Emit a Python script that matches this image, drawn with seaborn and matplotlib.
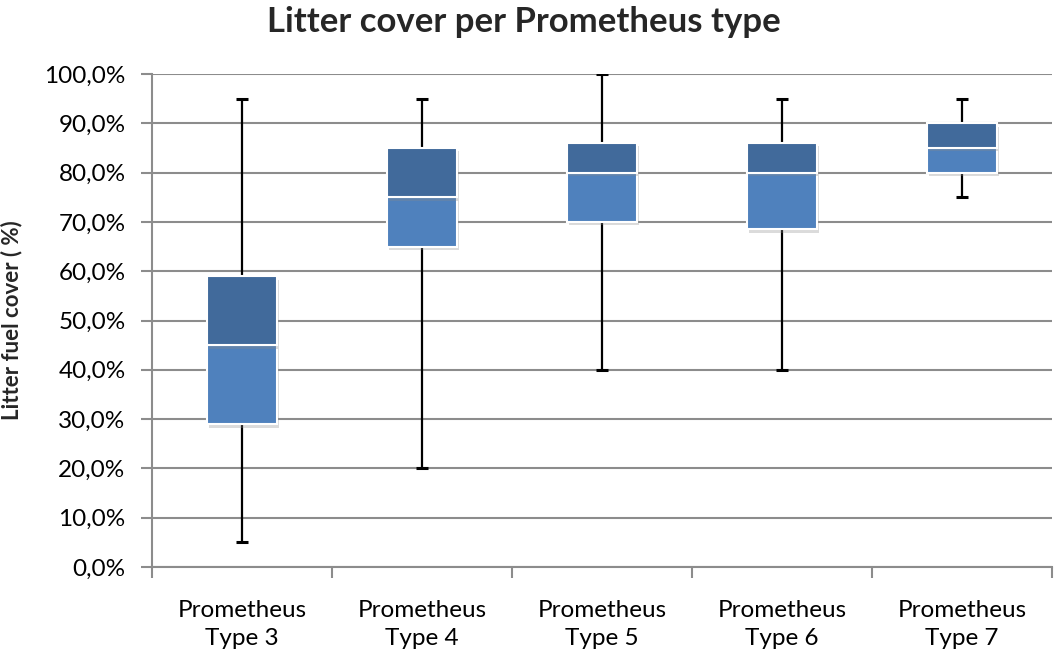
import matplotlib
matplotlib.use("Agg")
import matplotlib.pyplot as plt
import matplotlib.patheffects as pe
from matplotlib.ticker import FuncFormatter, FixedLocator
import numpy as np
import pandas as pd
import seaborn as sns

# Box statistics per Prometheus type (fractions of cover)
categories = ["Prometheus\nType 3", "Prometheus\nType 4", "Prometheus\nType 5",
              "Prometheus\nType 6", "Prometheus\nType 7"]
minimum = [0.05, 0.20, 0.40, 0.40, 0.75]
q1 = [0.29, 0.65, 0.70, 0.685, 0.80]
median = [0.45, 0.75, 0.80, 0.80, 0.85]
q3 = [0.59, 0.85, 0.86, 0.86, 0.90]
maximum = [0.95, 0.95, 1.00, 0.95, 0.95]

df = pd.DataFrame({"type": categories, "min": minimum, "q1": q1,
                   "median": median, "q3": q3, "max": maximum})
df["lower"] = df["median"] - df["q1"]
df["upper"] = df["q3"] - df["median"]

sns.set_theme(style="white")
plt.rcParams["font.family"] = ["Lato", "DejaVu Sans"]

fig = plt.figure(figsize=(10.54, 6.56), dpi=100)
ax = fig.add_axes([152 / 1054, 1 - 567 / 656, 900 / 1054, 493 / 656])

light = "#4f81bd"
dark = "#416a9b"
grid_c = "#8c8c8c"

# Horizontal grid
ax.set_ylim(0, 1.0)
ax.yaxis.set_major_locator(FixedLocator(np.arange(0, 1.01, 0.1)))
ax.grid(axis="y", color=grid_c, linewidth=1.5, zorder=0)
ax.set_axisbelow(True)

# Whiskers with caps (behind boxes)
x = np.arange(len(categories))
ax.vlines(x, df["min"], df["max"], color="black", linewidth=1.6, zorder=2)
cap = 0.035
ax.hlines(df["min"], x - cap, x + cap, color="black", linewidth=2.2, zorder=2)
ax.hlines(df["max"], x - cap, x + cap, color="black", linewidth=2.2, zorder=2)

shadow = [pe.SimplePatchShadow(offset=(1.5, -2.5), shadow_rgbFace="#8a8a8a", alpha=0.3),
          pe.Normal()]

# Lower half of box: Q1 -> median
sns.barplot(data=df, x="type", y="lower", bottom=df["q1"], color=light,
            saturation=1, width=0.39, edgecolor="white", linewidth=1.5,
            ax=ax, zorder=3)
# Upper half of box: median -> Q3
sns.barplot(data=df, x="type", y="upper", bottom=df["median"], color=dark,
            saturation=1, width=0.39, edgecolor="white", linewidth=1.5,
            ax=ax, zorder=3)
for p in ax.patches:
    p.set_path_effects(shadow)

ax.set_xlim(-0.5, len(categories) - 0.5)
ax.set_ylim(0, 1.0)

# Axes styling
for s in ["top", "right"]:
    ax.spines[s].set_visible(False)
for s in ["left", "bottom"]:
    ax.spines[s].set_color(grid_c)
    ax.spines[s].set_linewidth(1.5)

ax.yaxis.set_major_formatter(FuncFormatter(lambda v, _: f"{v * 100:.1f}%".replace(".", ",")))
ax.tick_params(axis="y", which="major", left=True, length=8, width=1.5, color=grid_c,
               labelsize=17.5, pad=11, labelcolor="black")

# Category ticks between groups, labels centred
ax.set_xticks(x)
ax.set_xticklabels(categories, fontsize=17.5, linespacing=1.4)
ax.tick_params(axis="x", which="major", bottom=False, pad=18, labelcolor="black")
ax.set_xticks(np.arange(-0.5, len(categories), 1.0), minor=True)
ax.tick_params(axis="x", which="minor", bottom=True, length=8, width=1.5, color=grid_c)

ax.set_xlabel("")
ax.set_ylabel("Litter fuel cover ( %)", fontsize=16, fontweight="bold")
ax.yaxis.set_label_coords(-130 / 900, 0.5)

fig.text(0.497, 1 - 22 / 656, "Litter cover per Prometheus type", ha="center",
         va="center", fontsize=25, fontweight="bold")

fig.savefig("out.png", dpi=100)
